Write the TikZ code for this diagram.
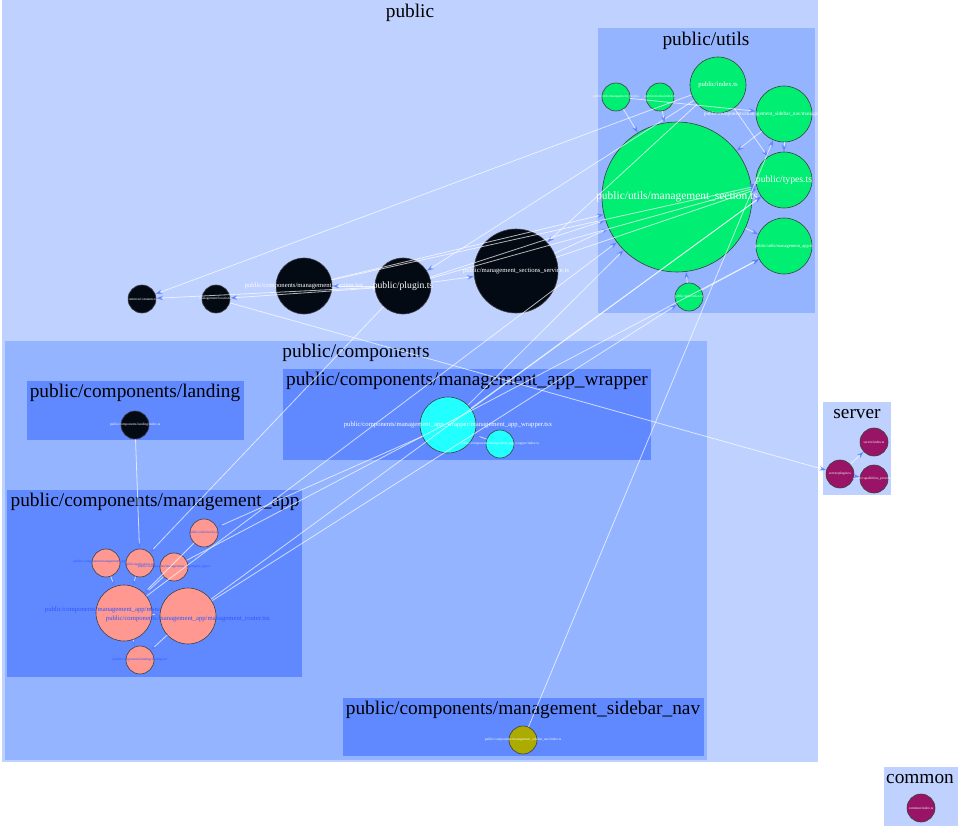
\documentclass[tikz,border=0pt]{standalone}
\usepackage{fontspec}
\setmainfont{Liberation Serif}
\usepackage{tikz}
\usetikzlibrary{arrows.meta}
\definecolor{pubbg}{HTML}{BFD1FF}
\definecolor{subbg}{HTML}{94B4FF}
\definecolor{leafbg}{HTML}{6189FF}
\definecolor{utilgreen}{HTML}{00EE72}
\definecolor{inkblack}{HTML}{040A14}
\definecolor{wrapcyan}{HTML}{22FFFF}
\definecolor{appsalmon}{HTML}{FF9890}
\definecolor{navolive}{HTML}{ABAB00}
\definecolor{srvplum}{HTML}{991466}
\definecolor{labelblue}{HTML}{2A55FF}
\definecolor{tipblue}{HTML}{5A7DFF}

\begin{document}
\begin{tikzpicture}[x=0.02cm, y=-0.02cm,
  mod/.style={circle, draw=black!75, line width=0.35pt, inner sep=0pt},
  r1/.style={minimum size=0.56cm},
  r2/.style={minimum size=1.12cm},
  r3/.style={minimum size=1.68cm},
  clab/.style={font=\fontsize{11}{12}\selectfont},
  tbig/.style={font=\fontsize{5.5}{6}\selectfont},
  tmid/.style={font=\fontsize{3.8}{4}\selectfont},
  tsml/.style={font=\fontsize{2}{2.2}\selectfont},
  dep/.style={draw=white, opacity=.7, line width=.45pt, -{Stealth[length=4pt, width=2.6pt, color=tipblue]}}]
  \useasboundingbox (0,0) rectangle (960,828);

  % clusters
  \fill[pubbg] (2,0) rectangle (818,762);
  \node[clab] (lpublic) at (410,13) {public};
  \fill[subbg] (598,28) rectangle (815,313);
  \node[clab] (lutils) at (706,41) {public/utils};
  \fill[subbg] (5,341) rectangle (707,760);
  \node[clab] (lcomp) at (356,353) {public/components};
  \fill[leafbg] (27,381) rectangle (244,440);
  \node[clab] (llanding) at (135,393) {public/components/landing};
  \fill[leafbg] (283,369) rectangle (651,460);
  \node[clab] (lwrapper) at (467,381) {public/components/management\_app\_wrapper};
  \fill[leafbg] (7,490) rectangle (302,677);
  \node[clab] (lmgmtapp) at (155,502) {public/components/management\_app};
  \fill[leafbg] (343,698) rectangle (704,756);
  \node[clab] (lsidenav) at (523,710) {public/components/management\_sidebar\_nav};
  \fill[pubbg] (823,402) rectangle (891,495);
  \node[clab] (lserver) at (857,414) {server};
  \fill[pubbg] (884,767) rectangle (958,826);
  \node[clab] (lcommon) at (920,779) {common};

  % public/utils
  \node[mod, r1, fill=utilgreen, label={[white, tsml]center:public/utils/management\_item.ts}] (uitem) at (616,97) {};
  \node[mod, r1, fill=utilgreen, label={[white, tsml]center:public/mocks/index.ts}] (mocks) at (660,97) {};
  \node[mod, r2, fill=utilgreen, label={[white, tmid]center:public/index.ts}] (index) at (718,85) {};
  \node[mod, r2, fill=utilgreen, label={[white, font=\fontsize{3}{3}\selectfont]center:public/components/management\_sidebar\_nav/management\_sidebar\_nav.tsx}] (sideutil) at (784,114) {};
  \node[mod, minimum size=3cm, fill=utilgreen, label={[white, font=\fontsize{6.5}{7}\selectfont]center:public/utils/management\_section.ts}] (section) at (677,197) {};
  \node[mod, r2, fill=utilgreen, label={[white, tbig]center:public/types.ts}] (types) at (784,180) {};
  \node[mod, r2, fill=utilgreen, label={[white, font=\fontsize{2.6}{3}\selectfont]center:public/utils/management\_app.ts}] (apputil) at (784,246) {};
  \node[mod, r1, fill=utilgreen, label={[white, tsml]center:public/utils/index.ts}] (uindex) at (689,297) {};

  % public
  \node[mod, r1, fill=inkblack, label={[white, tsml]center:common/constants.ts}] (constants) at (142,299) {};
  \node[mod, r1, fill=inkblack, label={[white, tsml]center:management/location.ts}] (location) at (216,299) {};
  \node[mod, r2, fill=inkblack, label={[white, tmid]center:public/components/management\_section.tsx}] (seccomp) at (304,286) {};
  \node[mod, r2, fill=inkblack, label={[white, tbig]center:public/plugin.ts}] (plugin) at (403,286) {};
  \node[mod, r3, fill=inkblack, label={[white, tmid]center:public/management\_sections\_service.ts}] (service) at (516,271) {};

  % components
  \node[mod, r1, fill=inkblack, label={[white, tsml]center:public/components/landing/index.ts}] (landing) at (135,425) {};
  \node[mod, r2, fill=wrapcyan, label={[white, tmid]center:public/components/management\_app\_wrapper/management\_app\_wrapper.tsx}] (wrapper) at (448,425) {};
  \node[mod, r1, fill=wrapcyan, label={[white, tsml]center:public/components/management\_app\_wrapper/index.ts}] (wrapidx) at (500,444) {};
  \node[mod, r1, fill=appsalmon, label={[labelblue, tsml]center:public/utils/mocks.ts}] (appmocks) at (204,533) {};
  \node[mod, r1, fill=appsalmon, label={[labelblue, tsml, yshift=1pt]center:public/components/management\_app/index.ts}] (appidx) at (106,563) {};
  \node[mod, r1, fill=appsalmon, label={[labelblue, tsml, yshift=-1pt]center:public/application.tsx}] (application) at (140,563) {};
  \node[mod, r1, fill=appsalmon, label={[labelblue, tsml]center:public/components/management\_app/mgmt\_app.ts}] (appts) at (174,567) {};
  \node[mod, r2, fill=appsalmon, label={[labelblue, tmid, yshift=1.5pt]center:public/components/management\_app/management\_app.tsx}] (mgmtapp) at (124,613) {};
  \node[mod, r2, fill=appsalmon, label={[labelblue, tmid, yshift=-1.5pt]center:public/components/management\_app/management\_router.tsx}] (router) at (188,616) {};
  \node[mod, r1, fill=appsalmon, label={[labelblue, tsml]center:public/components/landing/landing.tsx}] (landingtsx) at (140,660) {};
  \node[mod, r1, fill=navolive, label={[white, tsml]center:public/components/management\_sidebar\_nav/index.ts}] (sidenav) at (523,740) {};

  % server and common
  \node[mod, r1, fill=srvplum, label={[white, tsml]center:server/index.ts}] (sindex) at (874,442) {};
  \node[mod, r1, fill=srvplum, label={[white, tsml]center:server/plugin.ts}] (splugin) at (840,474) {};
  \node[mod, r1, fill=srvplum, label={[white, tsml]center:server/capabilities\_provider.ts}] (scap) at (874,479) {};
  \node[mod, r1, fill=srvplum, label={[white, tsml]center:common/index.ts}] (cindex) at (921,808) {};

  % dependencies
  \foreach \a/\b in {plugin/service, plugin/seccomp, plugin/constants, plugin/location,
      location/splugin, index/constants, index/plugin, index/types, index/service,
      service/section, service/types, plugin/types, plugin/section,
      seccomp/section, seccomp/types, section/types, section/apputil,
      uitem/section, mocks/section, uitem/sideutil, sideutil/types, sideutil/section,
      uindex/section, uindex/apputil, wrapper/section, wrapper/types, wrapidx/wrapper,
      landing/application, appidx/mgmtapp, application/mgmtapp, appts/mgmtapp,
      appmocks/mgmtapp, mgmtapp/router, mgmtapp/landingtsx, router/landingtsx,
      plugin/application, wrapper/appmocks, mgmtapp/section, router/types,
      appts/apputil, router/uindex, sidenav/sideutil, splugin/sindex, splugin/scap}
    \draw[dep] (\a) -- (\b);
\end{tikzpicture}
\end{document}
